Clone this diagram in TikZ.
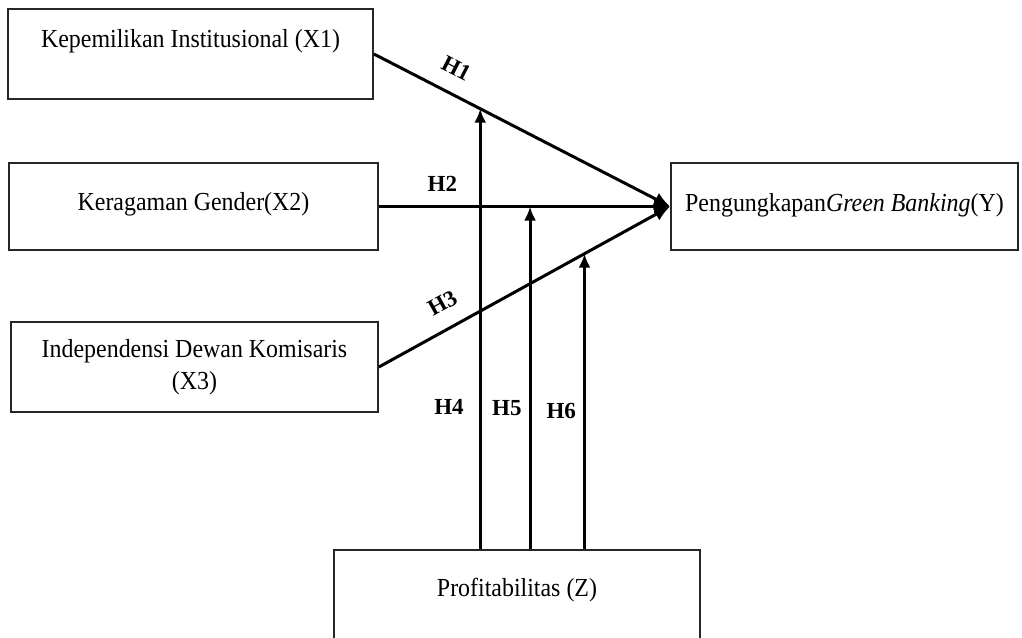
\documentclass[tikz,border=0pt]{standalone}
\usepackage{fontspec}
\setmainfont{Liberation Serif}
\newfontfamily\boxfont[FakeStretch=0.92]{Liberation Serif}
\usetikzlibrary{positioning}
\usetikzlibrary{calc}
\usetikzlibrary{arrows.meta}
\tikzstyle{varbox}=[draw=black!85,line width=0.9pt,rectangle,inner sep=0pt,align=center,font=\boxfont\fontsize{13}{16}\selectfont]
\tikzstyle{edge} = [draw,line width=1.5pt,-{Latex[length=8pt,width=7pt]}]
\tikzstyle{modedge} = [draw,line width=1.5pt,-{Latex[length=7pt,width=6pt]}]
\tikzstyle{hyp} = [font=\bfseries\fontsize{11.5}{13}\selectfont,inner sep=2pt]

\begin{document}
\begin{tikzpicture}[x=0.5pt,y=-0.5pt]
    \useasboundingbox (0,0) rectangle (1022,637);
    \clip (0,0) rectangle (1022,637);

    % First we draw the variables
    \node[varbox,minimum width=182.5pt,text height=19pt,text depth=26pt] (X1) at (190.5,54) {Kepemilikan Institusional (X1)};
    \node[varbox,minimum width=184.5pt,text height=23.5pt,text depth=20pt] (X2) at (193.5,206.5) {Keragaman Gender(X2)};
    \node[varbox,minimum width=183.5pt,minimum height=45pt] (X3) at (194.5,367) {Independensi Dewan Komisaris\\(X3)};
    \node[varbox,minimum width=173.5pt,text height=24pt,text depth=19.5pt] (Y) at (844.5,206.5) {Pengungkapan\textit{Green Banking}(Y)};
    \node[varbox,minimum width=183pt,text height=23pt,text depth=37pt] (Z) at (517,610) {Profitabilitas (Z)};

    % Direct effects H1--H3
    \foreach \src/\pt/\tpos/\lpos/\gap/\lab in {X1/m1/0.359/0.24/5.8pt/H1, X2/m2/0.519/0.218/5pt/H2, X3/m3/0.706/0.26/6pt/H3}
        \path[edge] (\src.east) -- coordinate[pos=\tpos] (\pt) node[hyp,sloped,above=\gap,pos=\lpos] {\lab} (Y.west);

    % Moderating effects H4--H6
    \foreach \pt/\lpos/\gap/\lab in {m1/0.322/5.5pt/H4, m2/0.413/1.5pt/H5, m3/0.466/1.5pt/H6}
        \path[modedge] (Z.north -| \pt) -- node[hyp,left=\gap,pos=\lpos] {\lab} (\pt);

\end{tikzpicture}
\end{document}
